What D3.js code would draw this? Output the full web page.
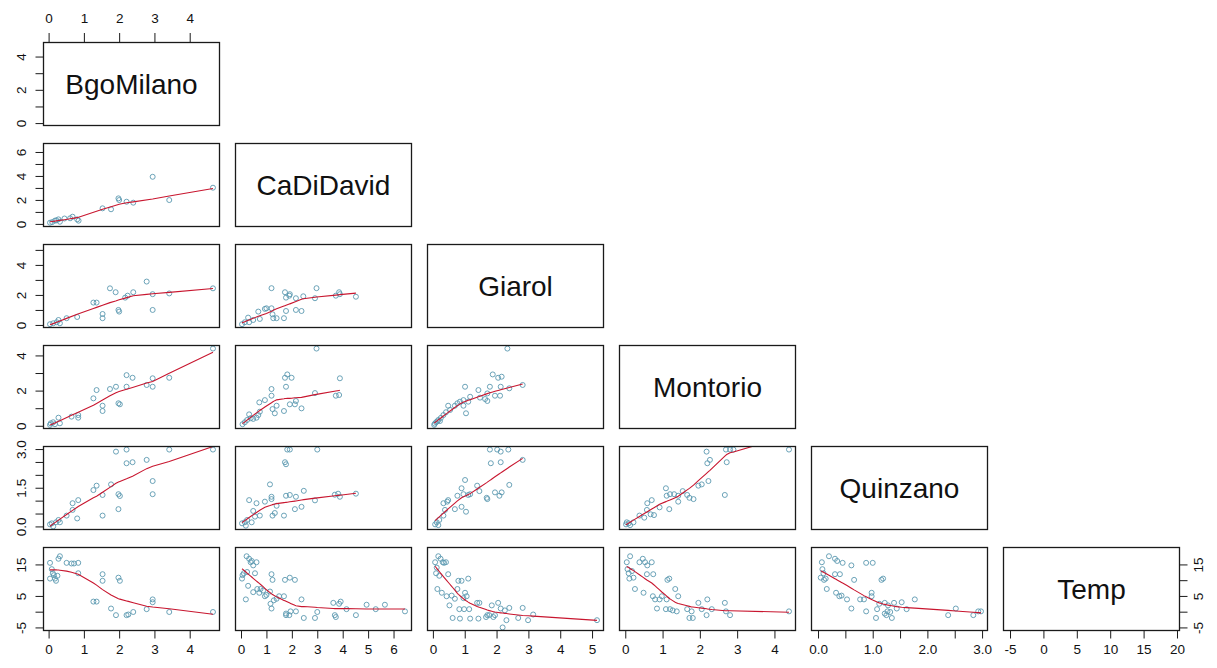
<!DOCTYPE html>
<html>
<head>
<meta charset="utf-8">
<script src="https://cdn.jsdelivr.net/npm/d3@7"></script>
<style>
  body { margin: 0; background: #fff; }
  svg { display: block; }
  text { font-family: "Liberation Sans", Arial, sans-serif; fill: #111; }
</style>
</head>
<body>
<svg id="chart" width="1217" height="668"></svg>
<script>
// ---- variables and their observed ranges ----
const variables = ["BgoMilano", "CaDiDavid", "Giarol", "Montorio", "Quinzano", "Temp"];
const observedMin = [0.04, 0.04, 0.035, 0.02, 0.0, -5.0];
const observedMax = [4.66, 6.45, 5.155, 4.39, 2.98, 19.4];

// tick positions and which of them carry a label
const xTicks = [[0,1,2,3,4], [0,1,2,3,4,5,6], [0,1,2,3,4,5], [0,1,2,3,4], [0,0.5,1,1.5,2,2.5,3], [-5,0,5,10,15,20]];
const xTickLabels = [[0,1,2,3,4], [0,1,2,3,4,5,6], [0,1,2,3,4,5], [0,1,2,3,4], [0,1,2,3], [-5,0,5,10,15,20]];
const yTicks = [[0,1,2,3,4], [0,1,2,3,4,5,6], [0,1,2,3,4,5], [0,1,2,3,4], [0,0.5,1,1.5,2,2.5,3], [-5,0,5,10,15]];
const yTickLabels = [[0,2,4], [0,2,4,6], [0,2,4], [0,2,4], [0,1.5,3], [-5,5,15]];
const tickDecimals = [0, 0, 0, 0, 1, 0];

// ---- paired observations, [column variable, row variable] ----
const caDiDavid_bgoMilano = [[0.04,0.10],[0.10,0.15],[0.18,0.27],[0.22,0.30],[0.28,0.38],[0.32,0.18],[0.45,0.45],[0.61,0.47],[0.68,0.60],[0.81,0.38],[0.85,0.27],[1.53,1.30],[1.77,1.22],[1.98,2.13],[2.00,1.99],[2.21,1.85],[2.40,1.77],[2.95,3.93],[3.42,1.99],[4.66,3.02]];

const giarol_bgoMilano = [[0.04,0.05],[0.13,0.11],[0.23,0.18],[0.32,0.11],[0.28,0.33],[0.51,0.45],[0.81,0.53],[1.27,1.49],[1.36,1.49],[1.53,0.73],[1.53,0.45],[1.74,2.44],[1.90,2.18],[1.98,1.00],[2.00,0.89],[2.17,1.82],[2.24,1.95],[2.40,2.18],[2.78,2.89],[2.95,2.05],[2.95,1.00],[3.42,2.10],[4.66,2.44]];
const giarol_caDiDavid = [[0.04,0.05],[0.15,0.18],[0.28,0.49],[0.32,0.18],[0.48,0.33],[0.68,0.89],[0.74,0.40],[0.94,1.07],[1.00,1.11],[1.20,2.45],[1.20,1.11],[1.24,0.71],[1.27,0.45],[1.40,0.45],[1.69,0.45],[1.73,2.18],[1.77,1.82],[1.90,1.95],[1.92,2.05],[1.77,0.93],[2.16,1.78],[2.16,1.00],[2.38,0.93],[2.45,1.91],[2.91,1.78],[2.97,2.45],[3.73,1.95],[3.86,2.18],[3.89,2.05],[4.52,1.88]];

const montorio_bgoMilano = [[0.04,0.05],[0.06,0.14],[0.13,0.20],[0.18,0.09],[0.28,0.46],[0.32,0.14],[0.65,0.52],[0.84,0.46],[0.84,0.61],[1.27,1.56],[1.36,2.03],[1.53,1.14],[1.53,0.84],[1.74,2.09],[1.91,2.22],[1.98,1.28],[2.02,1.22],[2.21,2.88],[2.38,2.73],[2.21,2.22],[2.78,2.32],[2.95,2.70],[2.95,2.22],[3.42,2.73],[4.66,4.39]];
const montorio_caDiDavid = [[0.06,0.09],[0.15,0.20],[0.24,0.33],[0.32,0.65],[0.38,0.43],[0.48,0.39],[0.61,0.46],[0.68,0.61],[0.74,0.80],[0.72,1.33],[0.94,1.46],[1.20,2.09],[1.20,1.71],[1.24,0.95],[1.33,0.71],[1.40,1.14],[1.69,0.84],[1.73,2.73],[1.77,2.22],[1.82,2.92],[1.92,1.22],[1.99,2.73],[2.12,1.22],[2.16,1.41],[2.38,0.99],[2.91,1.86],[2.97,4.39],[3.73,1.71],[3.86,1.75],[3.89,2.70]];
const montorio_giarol = [[0.04,0.05],[0.06,0.12],[0.10,0.20],[0.14,0.25],[0.17,0.33],[0.22,0.27],[0.25,0.45],[0.33,0.61],[0.41,0.77],[0.48,1.14],[0.54,0.90],[0.69,1.14],[0.77,1.28],[0.85,1.37],[0.96,1.46],[1.01,2.22],[0.96,1.14],[1.04,0.71],[1.11,1.37],[1.17,1.65],[1.43,2.03],[1.48,1.60],[1.64,1.52],[1.71,1.41],[1.71,1.84],[1.79,2.22],[1.88,2.92],[1.95,1.71],[2.05,2.73],[2.11,1.71],[2.13,2.22],[2.16,2.79],[2.34,4.39],[2.40,2.13],[2.82,2.32]];

const quinzano_bgoMilano = [[0.04,0.08],[0.09,0.12],[0.13,0.00],[0.21,0.16],[0.28,0.25],[0.32,0.16],[0.51,0.42],[0.68,0.90],[0.68,0.64],[0.81,0.31],[0.84,1.02],[1.27,1.41],[1.36,1.58],[1.53,1.22],[1.53,0.42],[1.77,1.63],[1.91,2.90],[1.98,0.67],[1.98,1.25],[2.02,1.18],[2.21,2.98],[2.21,2.45],[2.38,2.49],[2.78,2.58],[2.95,1.76],[2.95,1.25],[3.42,2.98],[4.66,2.98]];
const quinzano_caDiDavid = [[0.04,0.12],[0.15,0.16],[0.19,0.03],[0.24,0.25],[0.32,1.02],[0.42,0.16],[0.48,0.60],[0.55,0.38],[0.61,0.90],[0.74,0.42],[0.94,0.96],[1.14,1.63],[1.20,1.15],[1.20,1.06],[1.24,0.42],[1.33,0.52],[1.40,0.80],[1.69,0.42],[1.73,2.49],[1.77,2.41],[1.82,2.98],[1.92,2.98],[1.77,1.19],[1.92,1.22],[2.12,0.67],[2.16,1.15],[2.38,0.76],[2.47,1.38],[2.91,1.01],[3.00,2.98],[3.69,1.23],[3.82,1.27],[3.89,1.15],[4.52,1.27]];
const quinzano_giarol = [[0.07,0.08],[0.12,0.16],[0.17,0.05],[0.20,0.25],[0.33,0.42],[0.33,0.90],[0.38,0.64],[0.45,0.96],[0.48,1.02],[0.69,0.67],[0.77,1.19],[0.90,1.48],[0.90,0.76],[0.96,1.25],[1.01,1.80],[1.04,0.57],[1.11,1.22],[1.17,1.25],[1.39,1.58],[1.46,1.37],[1.69,1.11],[1.71,1.06],[1.79,2.98],[1.82,2.45],[1.95,1.32],[2.02,2.98],[2.09,1.19],[2.13,2.90],[2.13,2.49],[2.16,1.32],[2.37,2.98],[2.40,1.61],[2.82,2.58]];
const quinzano_montorio = [[0.02,0.08],[0.04,0.16],[0.09,0.12],[0.13,0.05],[0.22,0.16],[0.38,0.42],[0.51,0.34],[0.58,0.64],[0.59,0.90],[0.71,1.02],[0.68,0.47],[0.77,0.44],[0.92,0.74],[1.09,1.48],[1.11,1.19],[1.20,1.25],[1.18,0.67],[1.31,1.25],[1.42,0.96],[1.42,1.19],[1.54,1.37],[1.66,1.22],[1.72,1.11],[1.83,1.06],[1.96,1.58],[2.05,1.63],[2.18,2.90],[2.20,2.45],[2.27,2.58],[2.23,1.76],[2.67,1.22],[2.70,2.98],[2.72,2.49],[2.81,2.98],[2.90,2.98],[4.39,2.98]];

const temp_bgoMilano = [[0.04,15.5],[0.04,10.5],[0.09,13.5],[0.12,12.2],[0.15,11.6],[0.18,10.5],[0.21,9.8],[0.25,11.4],[0.28,16.8],[0.32,17.6],[0.51,15.5],[0.65,15.3],[0.72,15.3],[0.84,15.5],[0.84,12.2],[1.27,3.2],[1.36,3.2],[1.53,11.9],[1.53,9.8],[1.77,1.0],[1.91,-1.1],[1.98,10.8],[2.02,9.8],[2.21,-1.1],[2.26,-0.9],[2.40,-0.1],[2.78,0.8],[2.95,3.9],[2.95,3.0],[3.42,-0.1],[4.66,-0.1]];
const temp_caDiDavid = [[0.04,10.5],[0.06,11.6],[0.11,12.2],[0.19,3.9],[0.22,17.6],[0.24,12.6],[0.28,8.2],[0.32,16.8],[0.38,15.7],[0.42,16.1],[0.48,14.7],[0.55,12.2],[0.61,15.7],[0.48,6.2],[0.64,7.2],[0.72,6.0],[0.77,7.2],[0.87,6.7],[0.94,4.9],[1.00,5.3],[1.14,6.4],[1.20,11.9],[1.24,10.1],[1.16,2.5],[1.20,1.0],[1.29,3.6],[1.40,4.1],[1.50,4.9],[1.69,4.9],[1.73,10.1],[1.77,-0.6],[1.77,-1.1],[1.90,-1.1],[1.92,10.8],[1.95,0.1],[2.12,10.1],[2.16,0.1],[2.38,3.9],[2.47,-2.0],[2.91,-2.0],[3.00,-0.1],[3.63,2.8],[3.69,-1.1],[3.73,-1.7],[3.86,2.5],[3.92,3.2],[4.15,0.8],[4.52,-1.1],[4.94,2.2],[5.30,0.8],[5.66,2.2],[6.45,0.1]];
const temp_giarol = [[0.07,15.7],[0.10,12.2],[0.12,14.0],[0.17,17.6],[0.20,11.4],[0.24,16.8],[0.31,15.7],[0.35,15.5],[0.41,15.7],[0.14,7.2],[0.28,6.0],[0.43,4.9],[0.48,11.9],[0.52,2.0],[0.59,5.1],[0.62,-2.0],[0.69,4.1],[0.77,7.2],[0.80,9.8],[0.83,0.8],[0.85,-2.2],[0.90,9.8],[0.96,4.3],[1.01,6.0],[0.98,0.8],[1.06,4.9],[1.11,10.5],[1.14,0.8],[1.17,-2.2],[1.39,2.8],[1.43,-2.2],[1.46,2.8],[1.67,-1.7],[1.71,-1.1],[1.77,-1.1],[1.85,2.0],[1.90,-1.7],[1.95,-1.1],[2.05,2.8],[2.13,1.0],[2.19,-5.0],[2.26,0.4],[2.31,-2.7],[2.40,1.2],[2.68,-2.0],[2.82,1.2],[2.99,-2.7],[3.15,-0.9],[5.155,-2.7]];
const temp_montorio = [[0.04,15.7],[0.06,13.5],[0.09,12.2],[0.11,10.5],[0.13,17.6],[0.18,12.9],[0.22,10.8],[0.26,7.2],[0.38,15.7],[0.47,16.8],[0.53,15.7],[0.59,14.7],[0.71,15.7],[0.49,6.0],[0.58,11.9],[0.75,11.9],[0.74,4.9],[0.80,3.9],[0.85,1.0],[0.92,3.9],[0.98,4.9],[1.09,0.8],[1.11,3.9],[1.13,10.1],[1.18,10.5],[1.20,0.8],[1.27,0.4],[1.34,7.2],[1.38,0.1],[1.42,4.9],[1.66,0.8],[1.72,-2.0],[1.81,-2.0],[1.78,0.1],[1.96,2.8],[2.05,0.8],[2.20,3.9],[2.18,-1.1],[2.32,0.8],[2.67,2.8],[2.70,0.1],[2.81,-1.1],[4.39,0.1]];
const temp_quinzano = [[0.05,10.8],[0.07,15.7],[0.08,13.5],[0.10,12.2],[0.11,10.1],[0.14,10.5],[0.16,7.2],[0.20,17.6],[0.31,11.9],[0.31,16.8],[0.33,6.0],[0.35,16.1],[0.39,4.9],[0.40,11.9],[0.43,5.1],[0.45,15.5],[0.53,3.9],[0.61,14.7],[0.61,1.0],[0.66,10.1],[0.77,3.9],[0.84,3.9],[0.88,15.5],[0.88,0.1],[1.00,15.5],[0.98,6.0],[0.98,4.9],[1.06,-2.0],[1.08,0.8],[1.12,2.5],[1.16,10.1],[1.19,10.5],[1.22,2.8],[1.22,-0.6],[1.25,-1.1],[1.27,0.1],[1.28,2.0],[1.32,-0.1],[1.35,-2.0],[1.39,2.8],[1.44,1.0],[1.53,3.0],[1.62,0.8],[1.77,3.9],[2.38,-1.1],[2.52,1.0],[2.84,-1.1],[2.93,0.1],[2.98,0.1]];

// panel index: [row variable, column variable, observations]
const panels = [
  [1, 0, caDiDavid_bgoMilano],
  [2, 0, giarol_bgoMilano], [2, 1, giarol_caDiDavid],
  [3, 0, montorio_bgoMilano], [3, 1, montorio_caDiDavid], [3, 2, montorio_giarol],
  [4, 0, quinzano_bgoMilano], [4, 1, quinzano_caDiDavid], [4, 2, quinzano_giarol], [4, 3, quinzano_montorio],
  [5, 0, temp_bgoMilano], [5, 1, temp_caDiDavid], [5, 2, temp_giarol], [5, 3, temp_montorio], [5, 4, temp_quinzano]
];

// ---- layout ----
const left0 = 43.5, top0 = 42.5, cellW = 176, cellH = 83, stepX = 192, stepY = 101;
const tickLen = 8;
const pointColor = "#5b98b0";
const smoothColor = "#c8162f";

const svg = d3.select("#chart");
const defs = svg.append("defs");

const paddedDomain = i => {
  const pad = 0.04 * (observedMax[i] - observedMin[i]);
  return [observedMin[i] - pad, observedMax[i] + pad];
};
const xScales = variables.map((v, i) =>
  d3.scaleLinear().domain(paddedDomain(i)).range([left0 + i * stepX, left0 + i * stepX + cellW]));
const yScales = variables.map((v, i) =>
  d3.scaleLinear().domain(paddedDomain(i)).range([top0 + i * stepY + cellH, top0 + i * stepY]));

const fmt = i => d => d.toFixed(tickDecimals[i]);

// ---- LOWESS smoother (Cleveland 1979, as in R's lowess with f = 2/3, iter = 3) ----
function lowess(pairs, f = 2 / 3, iter = 3) {
  const sorted = pairs.slice().sort((a, b) => a[0] - b[0]);
  const x = sorted.map(d => d[0]), y = sorted.map(d => d[1]);
  const n = x.length;
  const range = x[n - 1] - x[0];
  const delta = 0.01 * range;
  const ns = Math.max(2, Math.min(n, Math.floor(f * n + 1e-7)));
  const ys = new Array(n).fill(0), rw = new Array(n).fill(1), res = new Array(n).fill(0);
  const w = new Array(n).fill(0);

  function lowest(xs, nleft, nright, userw) {
    const h = Math.max(xs - x[nleft], x[nright] - xs);
    const h9 = 0.999 * h, h1 = 0.001 * h;
    let a = 0, j = nleft;
    while (j < n) {
      w[j] = 0;
      const r = Math.abs(x[j] - xs);
      if (r <= h9) {
        w[j] = r <= h1 ? 1 : Math.pow(1 - Math.pow(r / h, 3), 3);
        if (userw) w[j] *= rw[j];
        a += w[j];
      } else if (x[j] > xs) break;
      j++;
    }
    const nrt = j - 1;
    if (a <= 0) return null;
    for (j = nleft; j <= nrt; j++) w[j] /= a;
    if (h > 0) {
      a = 0;
      for (j = nleft; j <= nrt; j++) a += w[j] * x[j];
      let b = xs - a, c = 0;
      for (j = nleft; j <= nrt; j++) c += w[j] * (x[j] - a) * (x[j] - a);
      if (Math.sqrt(c) > 0.001 * range) {
        b /= c;
        for (j = nleft; j <= nrt; j++) w[j] *= (b * (x[j] - a) + 1);
      }
    }
    let out = 0;
    for (j = nleft; j <= nrt; j++) out += w[j] * y[j];
    return out;
  }

  for (let it = 0; it <= iter; it++) {
    let nleft = 0, nright = ns - 1, last = -1, i = 0;
    do {
      while (nright < n - 1) {
        const d1 = x[i] - x[nleft], d2 = x[nright + 1] - x[i];
        if (d1 <= d2) break;
        nleft++; nright++;
      }
      const fit = lowest(x[i], nleft, nright, it > 0);
      ys[i] = fit === null ? y[i] : fit;
      if (last < i - 1) {
        const denom = x[i] - x[last];
        for (let j = last + 1; j < i; j++) {
          const alpha = (x[j] - x[last]) / denom;
          ys[j] = alpha * ys[i] + (1 - alpha) * ys[last];
        }
      }
      last = i;
      const cut = x[last] + delta;
      for (i = last + 1; i < n; i++) {
        if (x[i] > cut) break;
        if (x[i] === x[last]) { ys[i] = ys[last]; last = i; }
      }
      i = Math.max(last + 1, i - 1);
    } while (last < n - 1);

    for (let k = 0; k < n; k++) res[k] = y[k] - ys[k];
    if (it >= iter) break;
    const absRes = res.map(Math.abs).sort((a, b) => a - b);
    const m1 = Math.floor(n / 2);
    const cmad = n % 2 === 0 ? 3 * (absRes[m1] + absRes[m1 - 1]) : 6 * absRes[m1];
    const sc = d3.mean(y, Math.abs);
    if (cmad < 1e-7 * sc) break;
    const c9 = 0.999 * cmad, c1 = 0.001 * cmad;
    for (let k = 0; k < n; k++) {
      const r = Math.abs(res[k]);
      rw[k] = r <= c1 ? 1 : r > c9 ? 0 : Math.pow(1 - (r / cmad) * (r / cmad), 2);
    }
  }
  return x.map((v, k) => [v, ys[k]]);
}

// ---- scatter panels (each clipped to its own frame) ----
panels.forEach(([row, col, obs], p) => {
  const xs = xScales[col], ys = yScales[row];
  const clipId = `panel-clip-${p}`;
  defs.append("clipPath").attr("id", clipId)
    .append("rect")
    .attr("x", left0 + col * stepX).attr("y", top0 + row * stepY)
    .attr("width", cellW).attr("height", cellH);
  const g = svg.append("g");
  g.selectAll("circle").data(obs).join("circle")
    .attr("cx", d => xs(d[0]))
    .attr("cy", d => ys(d[1]))
    .attr("r", 2.5)
    .attr("fill", "none")
    .attr("stroke", pointColor)
    .attr("stroke-width", 0.9);
  g.append("path")
    .datum(lowess(obs))
    .attr("clip-path", `url(#${clipId})`)
    .attr("fill", "none")
    .attr("stroke", smoothColor)
    .attr("stroke-width", 1.1)
    .attr("d", d3.line().x(d => xs(d[0])).y(d => ys(d[1])));
});

// ---- diagonal labels ----
variables.forEach((name, i) => {
  svg.append("text")
    .attr("x", left0 + i * stepX + cellW / 2)
    .attr("y", top0 + i * stepY + cellH / 2)
    .attr("dy", "0.36em")
    .attr("text-anchor", "middle")
    .attr("font-size", 28)
    .text(name);
});

// ---- panel frames ----
for (let r = 0; r < variables.length; r++) {
  for (let c = 0; c <= r; c++) {
    svg.append("rect")
      .attr("x", left0 + c * stepX)
      .attr("y", top0 + r * stepY)
      .attr("width", cellW)
      .attr("height", cellH)
      .attr("fill", "none")
      .attr("stroke", "#1a1a1a")
      .attr("stroke-width", 1.3);
  }
}

// ---- axes ----
function styleAxis(g) {
  g.select(".domain").remove();
  g.selectAll(".tick line").attr("stroke", "#1a1a1a").attr("stroke-width", 1);
  g.selectAll(".tick text").attr("font-size", 13.5).attr("fill", "#111")
    .style("font-family", '"Liberation Sans", Arial, sans-serif');
}
const labelFor = (labels, i) => d => labels.some(v => Math.abs(v - d) < 1e-9) ? fmt(i)(d) : "";

const last = variables.length - 1;
const bottomY = top0 + last * stepY + cellH;

// bottom axes (every column)
variables.forEach((v, i) => {
  const g = svg.append("g").attr("transform", `translate(0,${bottomY})`)
    .call(d3.axisBottom(xScales[i]).tickValues(xTicks[i]).tickSize(tickLen).tickPadding(6)
      .tickFormat(labelFor(xTickLabels[i], i)));
  styleAxis(g);
});

// top axis (first column)
{
  const g = svg.append("g").attr("transform", `translate(0,${top0})`)
    .call(d3.axisTop(xScales[0]).tickValues(xTicks[0]).tickSize(9.5).tickPadding(10)
      .tickFormat(labelFor(xTickLabels[0], 0)));
  styleAxis(g);
}

// left axes (every row), labels parallel to the axis
variables.forEach((v, i) => {
  const g = svg.append("g").attr("transform", `translate(${left0},0)`)
    .call(d3.axisLeft(yScales[i]).tickValues(yTicks[i]).tickSize(tickLen)
      .tickFormat(labelFor(yTickLabels[i], i)));
  styleAxis(g);
  g.selectAll(".tick text")
    .attr("x", null).attr("dy", null)
    .attr("text-anchor", "middle")
    .attr("transform", "translate(-17.5,0) rotate(-90)");
});

// right axis (last row)
{
  const rightX = left0 + last * stepX + cellW;
  const g = svg.append("g").attr("transform", `translate(${rightX},0)`)
    .call(d3.axisRight(yScales[last]).tickValues(yTicks[last]).tickSize(tickLen)
      .tickFormat(labelFor(yTickLabels[last], last)));
  styleAxis(g);
  g.selectAll(".tick text")
    .attr("x", null).attr("dy", null)
    .attr("text-anchor", "middle")
    .attr("transform", "translate(23.5,0) rotate(-90)");
}
</script>
</body>
</html>
